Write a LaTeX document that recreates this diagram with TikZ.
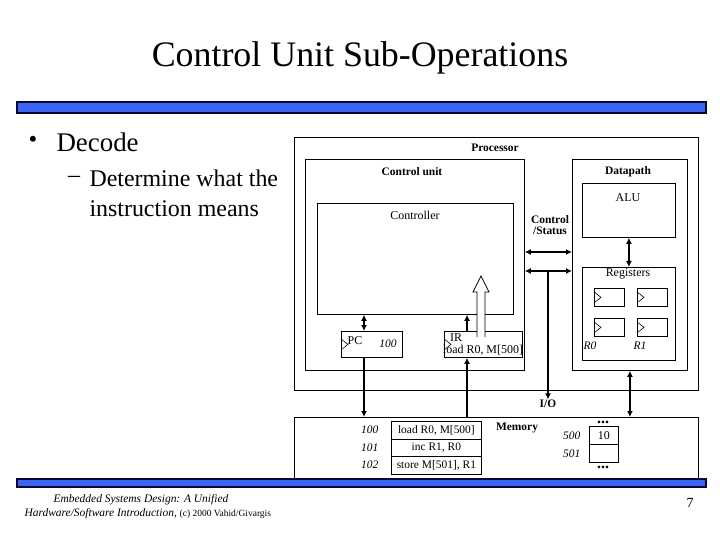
\documentclass[tikz,border=0pt]{standalone}
\usepackage{fontspec}
\setmainfont{Liberation Serif}
\usetikzlibrary{arrows.meta,positioning}
\definecolor{barblue}{RGB}{59,100,240}
\definecolor{barnavy}{RGB}{8,8,56}
\newcommand{\fsz}[1]{\fontsize{#1}{#1}\selectfont}

\begin{document}
\begin{tikzpicture}[x=1bp, y=-1bp, >={Latex[length=6bp,width=6bp]},
  box/.style={draw, line width=0.8bp, inner sep=0pt, anchor=north west},
  bus/.style={line width=2bp},
  lab/.style={inner sep=0.5bp, font=\fsz{12}},
  blab/.style={inner sep=0.5bp, font=\fsz{11.5}\bfseries},
  ilab/.style={inner sep=0.5bp, font=\fsz{11.5}\itshape},
  dots/.style={inner sep=0pt, font=\fsz{16}\bfseries},
  bar/.style={draw=barnavy, line width=1.5bp, fill=barblue}]
  \useasboundingbox (0,0) rectangle (720,540);

  % slide text
  \node[font=\fsz{25}] (bul) at (33,142) {•};
  \node[font=\fsz{36}] (title) at (360,58) {Control Unit Sub-Operations};
  \node[font=\fsz{27}, anchor=west] (decode) at (53,142) {Decode};
  \node[font=\fsz{24}] (dash) at (74,179) {\textendash};
  \node[font=\fsz{24}, anchor=west] (sub1) at (86,178) {Determine what the};
  \node[font=\fsz{24}, anchor=west] (sub2) at (86,209) {instruction means};

  % processor
  \node[box, minimum width=404bp, minimum height=253bp] (proc) at (294,137) {};
  \node[blab] (proclab) at (495,148) {Processor};
  \node[box, minimum width=219bp, minimum height=211bp] (cu) at (305,159) {};
  \node[blab] (culab) at (412,172) {Control unit};
  \node[box, minimum width=196bp, minimum height=111bp] (ctrl) at (317,203) {};
  \node[lab] (ctrllab) at (415,215) {Controller};
  \node[box, minimum width=115bp, minimum height=211bp] (dp) at (572,159) {};
  \node[blab] (dplab) at (628,172) {Datapath};
  \node[box, minimum width=93bp, minimum height=54bp] (alu) at (582,183) {};
  \node[lab] (alulab) at (628,198) {ALU};
  \node[box, minimum width=93bp, minimum height=93bp] (regs) at (582,267) {};
  \node[lab] (regslab) at (628,274) {Registers};
  \foreach \n/\x/\y in {r00/594/288, r01/637/288, r10/594/318, r11/637/318}
    \node[box, minimum width=30bp, minimum height=18bp] (\n) at (\x,\y) {};
  \node[ilab] (r0lab) at (590,346) {R0};
  \node[ilab] (r1lab) at (640,346) {R1};
  \node[blab, align=center] (cslab) at (550,225) {Control\\/Status};

  \node[box, minimum width=61bp, minimum height=26bp] (pc) at (341,331) {};
  \node[lab] (pclab) at (355,341) {PC};
  \node[ilab] (pcval) at (388,344) {100};
  \node[box, minimum width=78bp, minimum height=26bp] (ir) at (444,331) {};
  \node[lab] (irlab) at (456,338) {IR};
  \node[lab] (irval) at (483,350) {load R0, M[500]};
  \foreach \n in {pc, ir, r00, r01, r10, r11}
    \draw[line width=0.6bp] (\n.west) ++(0,-5.5) -- ++(7,5.5) -- ++(-7,5.5);
  \draw[line width=0.8bp, fill=white] (477,337) -- (477,292) -- (473,292) -- (481,276)
    -- (489,292) -- (485,292) -- (485,337);

  % memory
  \node[box, minimum width=404bp, minimum height=64bp] (mem) at (294,417) {};
  \node[blab] (memlab) at (517,428) {Memory};
  \foreach \n/\y/\t/\a in {m0/421/{load R0, M[500]}/100, m1/438.5/{inc R1, R0}/101,
      m2/456/{store M[501], R1}/102} {
    \node[box, minimum width=90bp, minimum height=17.5bp, lab, font=\fsz{11.5}] (\n) at (391,\y) {\t};
    \node[ilab, left=12bp of \n] (\n num) {\a};
  }
  \node[box, minimum width=29bp, minimum height=18bp, lab] (c500) at (589,426) {10};
  \node[box, minimum width=29bp, minimum height=18bp] (c501) at (589,444) {};
  \node[ilab, left=8bp of c500] (a500) {500};
  \node[ilab, left=8bp of c501] (a501) {501};
  \node[dots] (dtop) at (603,422.5) {...};
  \node[dots] (dbot) at (603,467) {...};
  \node[blab] (io) at (548,404) {I/O};

  % connections
  \coordinate (xpc) at (364,0);
  \coordinate (xir) at (467,0);
  \coordinate (xbus) at (548,0);
  \coordinate (ycs) at (0,252);
  \coordinate (ybus) at (0,271);
  \draw[bus,<->] (xpc |- ctrl.south) -- (xpc |- pc.north);
  \draw[bus,->] (xir |- ir.north) -- (xir |- ctrl.south);
  \draw[bus,->] (xpc |- pc.south) -- (xpc |- mem.north);
  \draw[bus,->] (xir |- mem.north) -- (xir |- ir.south);
  \draw[bus,<->] (ycs -| cu.east) -- (ycs -| dp.west);
  \draw[bus,<->] (ybus -| cu.east) -- (ybus -| dp.west);
  \draw[bus,->] (xbus |- ybus) -- (io.north);
  \draw[bus,<->] (alu.south) -- (regs.north);
  \draw[bus,<->] (dp.south) -- (dp.south |- mem.north);

  % bars and footer
  \draw[bar] (17,102) rectangle (706,113);
  \draw[bar] (17,479) rectangle (706,487);
  \node[font=\fsz{11.5}\itshape] (foot1) at (141,500) {Embedded Systems Design: A Unified};
  \node[font=\fsz{11.5}, anchor=west] (foot2) at (21,514)
    {\textit{Hardware/Software Introduction,} {\fsz{9.5}(c) 2000 Vahid/Givargis}};
  \node[font=\fsz{14}] (pgno) at (690,503) {7};
\end{tikzpicture}
\end{document}
